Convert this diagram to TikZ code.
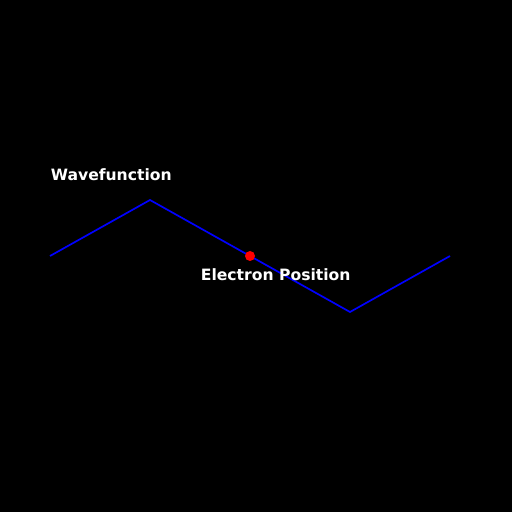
\documentclass[tikz,border=0pt]{standalone}
\usepackage{fontspec}
\setmainfont{DejaVu Sans}
\usepackage{tikz}

\begin{document}
\begin{tikzpicture}[x=0.5pt,y=0.5pt,yscale=-1,xscale=1]
\fill [black] (0,0) rectangle (512,512);
\useasboundingbox (0,0) rectangle (512,512);
\tikzset{wave/.style={draw=blue, line width=0.85pt},
  lbl/.style={text=white, font=\fontsize{7.8}{9.4}\selectfont\bfseries, inner sep=0, anchor=base west}}
\coordinate (p1) at (50,256);
\coordinate (p2) at (150,200);
\coordinate (p3) at (350,312);
\coordinate (p4) at (450,256);
\draw [wave] (p1) -- (p2) -- (p3) -- (p4);
\node [circle, fill=red, inner sep=0, minimum size=5pt] (electron) at (250,256) {};
\node [lbl] (wavelbl) at (50.5,181) {Wavefunction};
\node [lbl] (poslbl) at (200.5,281) {Electron Position};
\end{tikzpicture}
\end{document}
